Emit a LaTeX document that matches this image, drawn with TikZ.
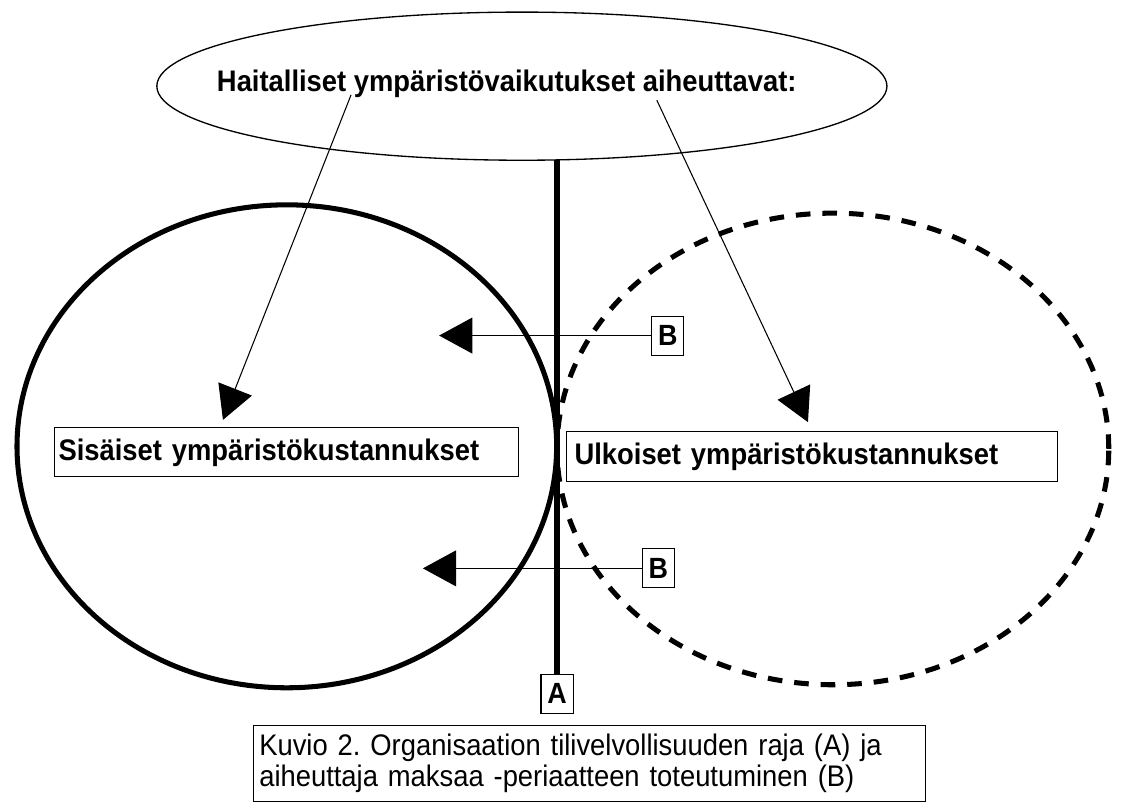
\documentclass[tikz,border=0pt]{standalone}
\usepackage{fontspec}
\setmainfont{Liberation Sans}[FakeStretch=0.92]
\usepackage{tikz}
\usetikzlibrary{shapes.geometric, arrows.meta, positioning}
\newcommand{\kirjasin}{\fontsize{22.4}{24}\selectfont\frenchspacing}

\begin{document}
\begin{tikzpicture}[
    otsikko/.style={font=\kirjasin\bfseries, align=center},
    kentta/.style={draw, line width=0.8pt, anchor=west, align=left, font=\kirjasin\bfseries},
    kirjain/.style={draw, line width=0.8pt, font=\fontsize{22}{24}\selectfont\bfseries, inner sep=2pt, minimum width=0.85cm, minimum height=1.03cm},
    nuoli/.style={-{Triangle[length=25pt, width=27pt]}, line width=0.8pt},
    raja/.style={line width=4.5pt}
]
    \useasboundingbox (0,0) rectangle (29.69,-21.25);

    % Haitat
    \node[draw, ellipse, line width=1pt, minimum width=19.32cm, minimum height=3.92cm] (haitat) at (13.81,-2.28) {};
    \node[otsikko] (otsikko) at (13.41,-2.22) {Haitalliset ympäristövaikutukset aiheuttavat:};

    % Organisaatio ja ympäristö
    \draw[line width=3.8pt] (7.59,-11.81) ellipse [x radius=7.14cm, y radius=6.39cm];
    \draw[line width=3.8pt, dash pattern=on 11pt off 9pt] (22.04,-11.88) ellipse [x radius=7.30cm, y radius=6.24cm];

    % Raja (A)
    \node[kirjain] (A) at (14.74,-18.36) {A};
    \coordinate (rajaalku) at (14.74,-4.23);
    \draw[raja] (rajaalku) -- (A.north);

    % Kustannukset
    \node[kentta, text width=12.07cm, minimum height=1.30cm, inner xsep=3pt] (sisaiset) at (1.43,-11.97) {Sisäiset ympäristökustannukset};
    \node[kentta, text width=12.57cm, minimum height=1.32cm, inner xsep=6pt] (ulkoiset) at (14.98,-12.09) {Ulkoiset ympäristökustannukset};

    % Aiheuttaja maksaa (B)
    \node[kirjain] (B1) at (17.67,-8.88) {B};
    \node[kirjain] (B2) at (17.42,-15.04) {B};
    \coordinate (B1karki) at (11.62,-8.88);
    \coordinate (B2karki) at (11.19,-15.04);
    \draw[nuoli] (B1.west) -- (B1karki);
    \draw[nuoli] (B2.west) -- (B2karki);

    % Haitoista kustannuksiin
    \coordinate (vasenalku) at (9.29,-2.51);
    \coordinate (oikeaalku) at (17.38,-2.65);
    \coordinate (vasenkarki) at (5.90,-11.11);
    \coordinate (oikeakarki) at (21.38,-11.17);
    \draw[nuoli] (vasenalku) -- (vasenkarki);
    \draw[nuoli] (oikeaalku) -- (oikeakarki);

    % Kuvioteksti
    \node[draw, line width=0.8pt, anchor=north west, text width=17.46cm, minimum height=2.01cm, inner xsep=4.5pt, align=left, font=\kirjasin] (kuvio) at (6.69,-19.18) {Kuvio 2. Organisaation tilivelvollisuuden raja (A) ja\\aiheuttaja maksaa -periaatteen toteutuminen (B)};
\end{tikzpicture}
\end{document}
